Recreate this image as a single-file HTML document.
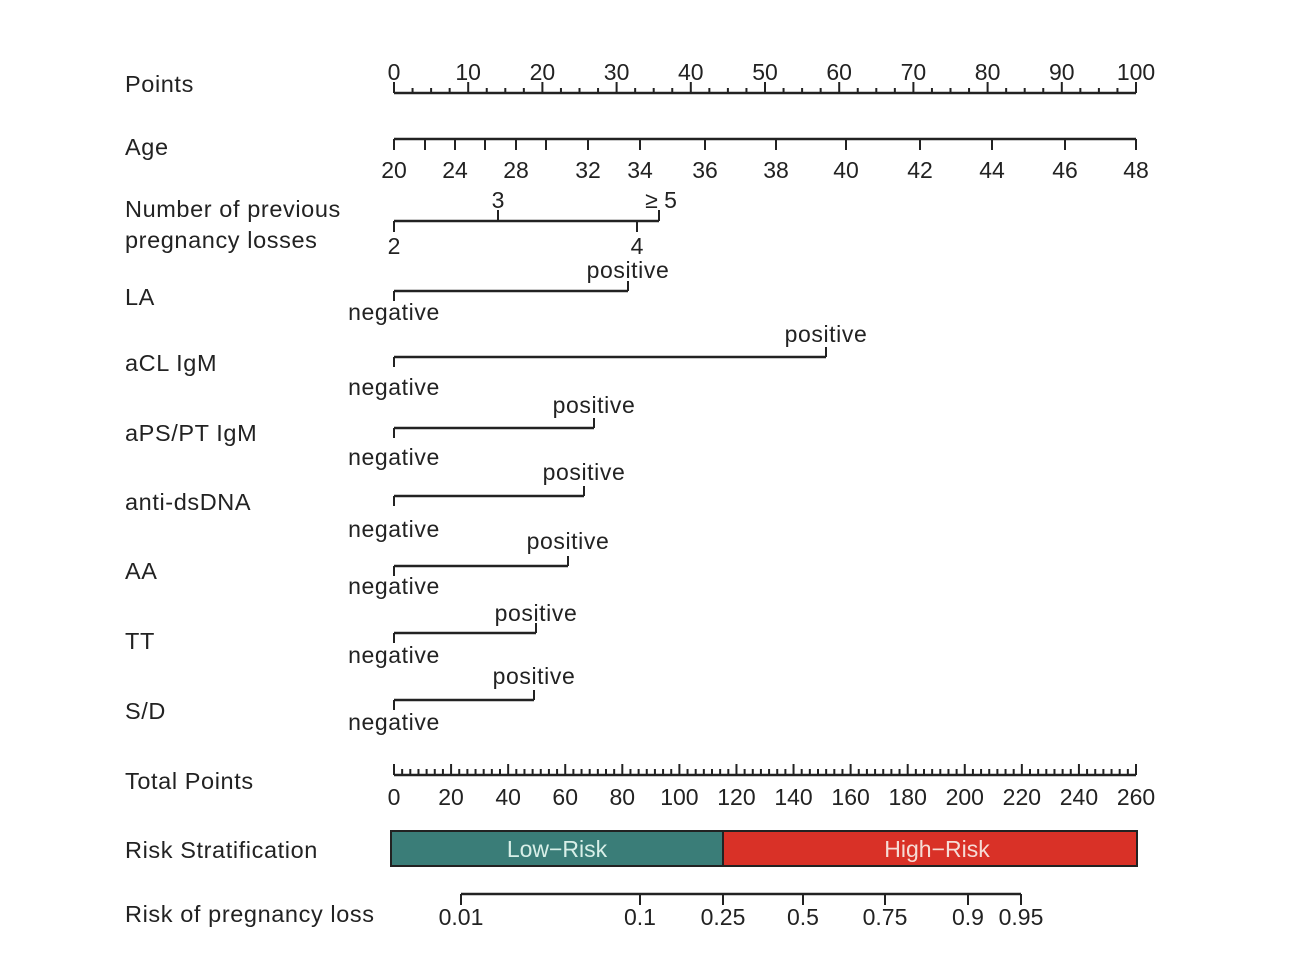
<!DOCTYPE html>
<html><head><style>body{margin:0;background:#fff}</style></head><body>
<svg width="1292" height="962" xmlns="http://www.w3.org/2000/svg" font-family="Liberation Sans, sans-serif" fill="#222">
<g font-size="23.5" letter-spacing="0.6">
<text x="125" y="92">Points</text>
<text x="125" y="155">Age</text>
<text x="125" y="217">Number of previous</text>
<text x="125" y="248">pregnancy losses</text>
<text x="125" y="305">LA</text>
<text x="125" y="371">aCL IgM</text>
<text x="125" y="441">aPS/PT IgM</text>
<text x="125" y="510">anti-dsDNA</text>
<text x="125" y="579">AA</text>
<text x="125" y="649">TT</text>
<text x="125" y="719">S/D</text>
<text x="125" y="789">Total Points</text>
<text x="125" y="858">Risk Stratification</text>
<text x="125" y="922">Risk of pregnancy loss</text>
</g>
<g stroke="#222" stroke-width="2.5" fill="none" id="ax"></g>
<g font-size="23" text-anchor="middle" id="lb"></g>
<rect x="391" y="831" width="332" height="35" fill="#3a7d78" stroke="#222" stroke-width="2"/>
<rect x="723" y="831" width="414" height="35" fill="#d93127" stroke="#222" stroke-width="2"/>
<text x="557" y="857" font-size="23" text-anchor="middle" fill="#d8efe8">Low−Risk</text>
<text x="937" y="857" font-size="23" text-anchor="middle" fill="#f6dcd6">High−Risk</text>
</svg>
<script>
const ax=document.getElementById('ax'),lb=document.getElementById('lb');
function L(x1,y1,x2,y2,w){ax.insertAdjacentHTML('beforeend',`<line x1="${x1}" y1="${y1}" x2="${x2}" y2="${y2}" ${w?'stroke-width="'+w+'"':''}/>`);}
function T(x,y,t,ls){lb.insertAdjacentHTML('beforeend',`<text x="${x}" y="${y}" ${ls?'letter-spacing="0.6"':''}>${t}</text>`);}
// Points
L(394,93,1136,93);
for(let i=0;i<=40;i++){const x=394+i*742/40;L(x,93,x,i%4==0?82:88,2);}
for(let i=0;i<=10;i++)T(394+i*74.2,80,i*10);
// Age
L(394,139,1136,139);
const ages=[[20,394],[22,425],[24,455],[26,485],[28,516],[30,546],[32,588],[34,640],[36,705],[38,776],[40,846],[42,920],[44,992],[46,1065],[48,1136]];
ages.forEach(([a,x])=>{L(x,139,x,150,2);if(a%4==0||a>=32||a==20)T(x,178,a);});
// pregnancy
L(394,221,659,221);L(394,221,394,232,2);L(637,221,637,232,2);L(498,221,498,210,2);L(659,221,659,210,2);
T(498,208,'3');T(661,208,'≥ 5');T(394,254,'2');T(637,254,'4');
// binary
[[291,628,278,320],[357,826,342,395],[428,594,413,465],[496,584,480,537],[566,568,549,594],[633,536,621,663],[700,534,684,730]].forEach(([y,x2,py,ny])=>{
L(394,y,x2,y);L(394,y,394,y+10,2);L(x2,y,x2,y-10,2);T(x2,py,'positive',1);T(394,ny,'negative',1);});
// total points
L(394,775,1136,775);
const n=91;
for(let i=0;i<=n;i++){const x=394+i*742/n;L(x,775,x,i%7==0?764:769,2);}
for(let i=0;i<=13;i++)T(394+i*742/13,805,i*20);
// risk
L(461,894,1021,894);
[[461,'0.01'],[640,'0.1'],[723,'0.25'],[803,'0.5'],[885,'0.75'],[968,'0.9'],[1021,'0.95']].forEach(([x,t])=>{L(x,894,x,905,2);T(x,925,t);});
</script>
</body></html>
